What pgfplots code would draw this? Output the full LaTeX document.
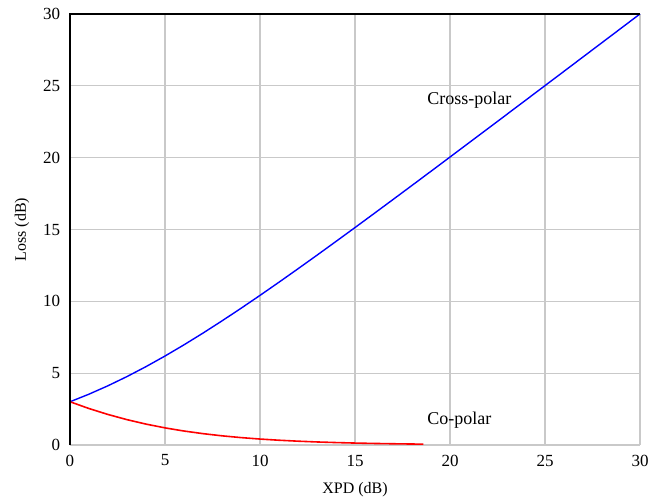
\documentclass[border=0pt]{standalone}
\usepackage{pgfplots}
\pgfplotsset{compat=1.18}
\usepackage{fontspec}
\setmainfont{Liberation Serif}
\begin{document}
\fontsize{17bp}{20bp}\selectfont
\begin{tikzpicture}
\useasboundingbox (-70bp,-57bp) rectangle (579bp,445bp);
\begin{axis}[
  at={(0,0)}, anchor=south west,
  scale only axis, width=570bp, height=431bp,
  xmin=0, xmax=30, ymin=0, ymax=30,
  xtick={0,5,...,30}, ytick={0,5,...,30},
  grid=major, grid style={draw=black!21, line width=1.2bp},
  major tick length=0pt,
  axis line style={draw=none},
  /pgf/number format/assume math mode=true,
  tick label style={font=\fontsize{17bp}{20bp}\selectfont},
  xticklabel style={yshift=-4bp},
  yticklabel style={xshift=-4bp},
  xlabel={XPD (dB)}, ylabel={Loss (dB)},
  label style={font=\fontsize{16bp}{19bp}\selectfont},
  xlabel style={at={(axis description cs:0.5,0)}, anchor=center, yshift=-45bp},
  ylabel style={at={(axis description cs:0,0.5)}, anchor=center, rotate=0, xshift=0bp, yshift=48bp},
  clip=false,
]
\addplot[blue, line width=1.4bp] coordinates {
(0,3.010)(1,3.539)(2,4.124)(3,4.764)(4,5.455)(5,6.193)(6,6.973)(7,7.790)(8,8.639)(9,9.515)
(10,10.414)(11,11.332)(12,12.266)(13,13.212)(14,14.170)(15,15.135)(16,16.108)(17,17.086)(18,18.068)(19,19.054)
(20,20.043)(21,21.035)(22,22.028)(23,23.022)(24,24.017)(25,25.014)(26,26.011)(27,27.009)(28,28.007)(29,29.005)(30,30.004)};
\addplot[red, line width=1.6bp] coordinates {
(0,3.010)(1,2.539)(2,2.124)(3,1.764)(4,1.455)(5,1.193)(6,0.973)(7,0.790)(8,0.639)(9,0.515)
(10,0.414)(11,0.332)(12,0.266)(13,0.212)(14,0.170)(15,0.135)(16,0.108)(17,0.086)(18,0.068)(18.6,0.060)};
\draw[black, line width=1.5bp] (rel axis cs:0,0) -- (rel axis cs:0,1) -- (rel axis cs:1,1);
\node[anchor=west, inner sep=0pt, font=\fontsize{18bp}{21bp}\selectfont] at (axis cs:18.8,24.0) {Cross-polar};
\node[anchor=west, inner sep=0pt, font=\fontsize{18bp}{21bp}\selectfont] at (axis cs:18.8,1.75) {Co-polar};
\end{axis}
\end{tikzpicture}
\end{document}
